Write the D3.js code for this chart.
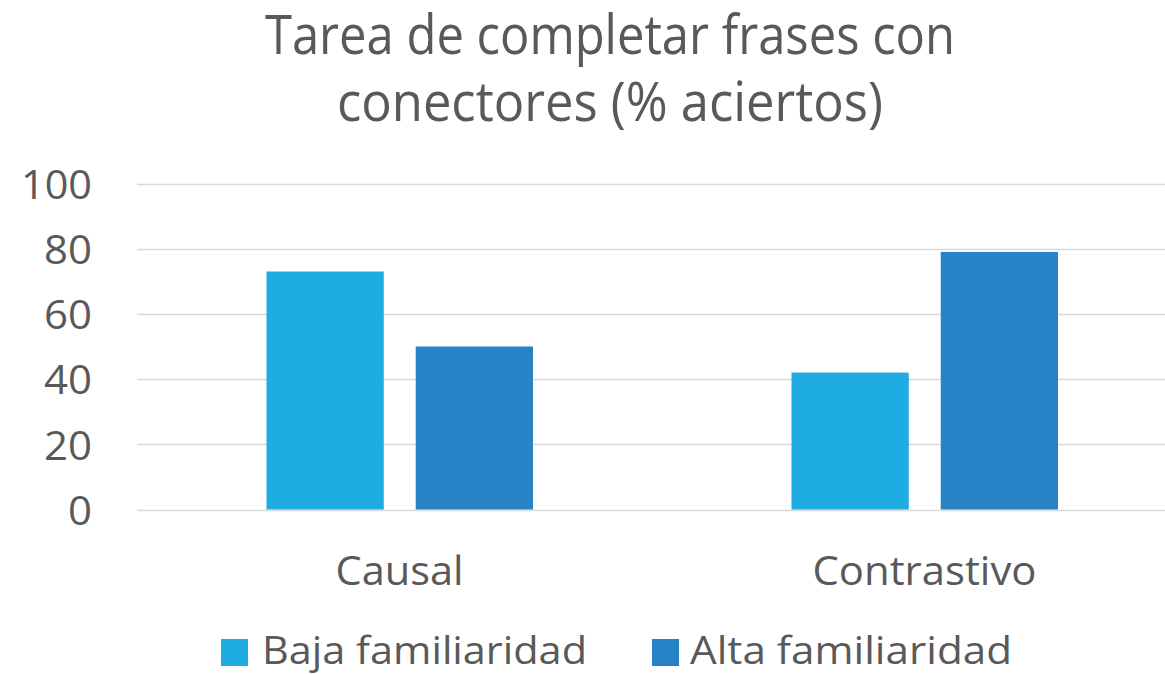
<!DOCTYPE html>
<html>
<head>
<meta charset="utf-8">
<script src="https://cdn.jsdelivr.net/npm/d3@7"></script>
<style>
  body { margin: 0; background: #fff; }
  text { font-family: "Open Sans", sans-serif; fill: #595959; }
</style>
</head>
<body>
<svg id="chart" width="1165" height="674"></svg>
<script>
// data
var categories = ["Causal", "Contrastivo"];
var series = ["Baja familiaridad", "Alta familiaridad"];
var bajaValues = [73, 42];
var altaValues = [50, 79];
var yTicks = [0, 20, 40, 60, 80, 100];
var titleLines = ["Tarea de completar frases con", "conectores (% aciertos)"];
var colors = ["#1EACE3", "#2683C6"];

var svg = d3.select("#chart");

var rows = categories.map(function(c, i) {
  return { cat: c, vals: [bajaValues[i], altaValues[i]] };
});

var y = d3.scaleLinear().domain([0, 100]).range([509.5, 183.5]);
var x0 = d3.scaleBand().domain(categories).range([137, 1187]);
var x1 = d3.scaleBand().domain(series).range([129.5, 396]).paddingInner(0.214);

// gridlines
svg.append("g").selectAll("line")
  .data(yTicks)
  .enter().append("line")
  .attr("x1", 137).attr("x2", 1187)
  .attr("y1", function(d) { return Math.round(y(d)) + 0.5; })
  .attr("y2", function(d) { return Math.round(y(d)) + 0.5; })
  .style("stroke", "#D9D9D9")
  .style("stroke-width", 1.5);

// y axis labels
var yAxis = d3.axisLeft(y).tickValues(yTicks).tickSize(0).tickPadding(0);
var ya = svg.append("g").attr("transform", "translate(92,0)").call(yAxis);
ya.select(".domain").remove();
ya.selectAll("text")
  .style("font-size", "41px")
  .style("font-family", "Open Sans, sans-serif")
  .style("fill", "#595959")
  .attr("dy", "0.36em")
  .attr("textLength", function(d) { return d >= 100 ? 71 : (d > 0 ? 48 : 24); })
  .attr("lengthAdjust", "spacingAndGlyphs");

// bars
var groups = svg.append("g").selectAll("g")
  .data(rows)
  .enter().append("g")
  .attr("transform", function(d) { return "translate(" + x0(d.cat) + ",0)"; });

groups.selectAll("rect")
  .data(function(d) { return d.vals.map(function(v, i) { return { s: series[i], v: v, i: i }; }); })
  .enter().append("rect")
  .attr("x", function(d) { return x1(d.s); })
  .attr("width", x1.bandwidth())
  .attr("y", function(d) { return y(d.v); })
  .attr("height", function(d) { return y(0) - y(d.v); })
  .style("fill", function(d) { return colors[d.i]; });

// category labels
var xAxis = d3.axisBottom(x0).tickSize(0).tickPadding(0);
var xa = svg.append("g").attr("transform", "translate(0,585)").call(xAxis);
xa.select(".domain").remove();
xa.selectAll("text")
  .attr("dy", 0).attr("y", 0)
  .style("font-size", "40px")
  .style("font-family", "Open Sans, sans-serif")
  .style("fill", "#595959")
  .attr("textLength", function(d, i) { return [128, 224][i]; })
  .attr("lengthAdjust", "spacingAndGlyphs");

// title
svg.append("g").selectAll("text")
  .data(titleLines)
  .enter().append("text")
  .attr("x", 610)
  .attr("y", function(d, i) { return 54 + i * 67; })
  .attr("text-anchor", "middle")
  .attr("textLength", function(d, i) { return [690, 546][i]; })
  .attr("lengthAdjust", "spacingAndGlyphs")
  .style("font-size", "54px")
  .text(function(d) { return d; });

// legend
var legendX = [221, 652];
var legendTextX = [41, 38];
var legendTextLen = [325, 322];
var lg = svg.append("g").selectAll("g")
  .data(series)
  .enter().append("g")
  .attr("transform", function(d, i) { return "translate(" + legendX[i] + ",639)"; });
lg.append("rect")
  .attr("width", 27).attr("height", 27)
  .style("fill", function(d, i) { return colors[i]; });
lg.append("text")
  .attr("x", function(d, i) { return legendTextX[i]; })
  .attr("y", 25)
  .attr("textLength", function(d, i) { return legendTextLen[i]; })
  .attr("lengthAdjust", "spacingAndGlyphs")
  .style("font-size", "39px")
  .text(function(d) { return d; });
</script>
</body>
</html>
